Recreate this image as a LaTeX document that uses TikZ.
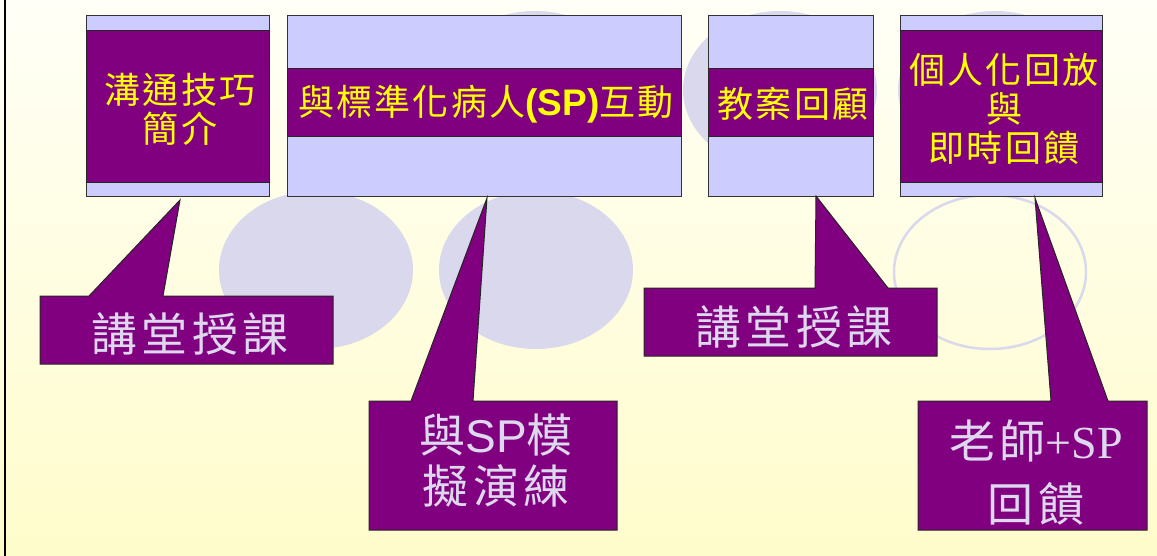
\documentclass[tikz,border=0pt]{standalone}
\usepackage{fontspec}
\newfontfamily\cjkls[LetterSpace=6]{Noto Sans CJK TC}
\newfontfamily\cjkl[LetterSpace=9]{Noto Sans CJK TC}
\newfontfamily\arialf{Liberation Sans}
\newfontfamily\timesf{Liberation Serif}
\definecolor{bgtop}{HTML}{FFFFF7}
\definecolor{bgbot}{HTML}{FFFCCB}
\definecolor{circ}{HTML}{DAD8EC}
\definecolor{lightbox}{HTML}{CCCCFF}
\definecolor{purp}{HTML}{800080}
\definecolor{outl}{HTML}{333333}
\definecolor{ytxt}{HTML}{FFFF00}
\definecolor{ltxt}{HTML}{DDD8EE}
\tikzset{
  circfill/.style={fill=circ},
  circring/.style={draw=circ, line width=2.5pt},
  outerbox/.style={fill=lightbox, draw=outl, line width=1pt},
  bandbox/.style={fill=purp, draw=black!85, line width=1pt},
  callout/.style={fill=purp, draw=black!85, line width=1pt, line join=miter},
  ytext/.style={text=ytxt, align=center, inner sep=0pt, font=\fontsize{36}{39}\selectfont\cjkls},
  ltext/.style={text=ltxt, align=center, inner sep=0pt, font=\fontsize{46}{51}\selectfont\cjkl}
}
\begin{document}
\begin{tikzpicture}[x=1pt,y=-1pt]
\useasboundingbox (0,0) rectangle (1157,556);
\shade[top color=bgtop, bottom color=bgbot] (0,0) rectangle (1157,556);
% background ellipses
\fill[circfill] (535,90) ellipse [x radius=97pt, y radius=79pt];
\fill[circfill] (780,90) ellipse [x radius=97pt, y radius=79pt];
\fill[circfill] (995,90) ellipse [x radius=97pt, y radius=79pt];
\fill[circfill] (316,270) ellipse [x radius=97pt, y radius=79pt];
\fill[circfill] (536,270) ellipse [x radius=97pt, y radius=79pt];
\draw[circring] (990,272) ellipse [x radius=96pt, y radius=77pt];
% left border
\draw[line width=2pt] (5,0) -- (5,556);
% top boxes
\filldraw[outerbox] (86,16) rectangle (269,197);
\filldraw[bandbox] (86,31) rectangle (269,183);
\filldraw[outerbox] (287,16) rectangle (681,197);
\filldraw[bandbox] (287,69) rectangle (681,137);
\filldraw[outerbox] (708,16) rectangle (873,197);
\filldraw[bandbox] (708,69) rectangle (873,137);
\filldraw[outerbox] (900,16) rectangle (1102,197);
\filldraw[bandbox] (900,31) rectangle (1102,183);
\node[ytext] (b1) at (180,109) {溝通技巧\\簡介};
\node[ytext] (b2) at (486,104) {與標準化病人{\fontsize{37}{39}\selectfont\arialf\bfseries (SP)}互動};
\node[ytext] (b3) at (793,104) {教案回顧};
\node[ytext] (b4) at (1004,109) {個人化回放\\與\\即時回饋};
% callouts
\coordinate (p1) at (180,200);
\coordinate (p2) at (487,198);
\coordinate (p3) at (816,196);
\coordinate (p4) at (1035,198);
\filldraw[callout] (40,296) -- (89,296) -- (p1) -- (163,296) -- (333,296) -- (333,364) -- (40,364) -- cycle;
\filldraw[callout] (369,401) -- (411,401) -- (p2) -- (473,401) -- (617,401) -- (617,530) -- (369,530) -- cycle;
\filldraw[callout] (644,288) -- (815,288) -- (p3) -- (888,288) -- (937,288) -- (937,356) -- (644,356) -- cycle;
\filldraw[callout] (918,401) -- (1051,401) -- (p4) -- (1108,401) -- (1147,401) -- (1147,530) -- (918,530) -- cycle;
\node[ltext] (c1) at (190,334) {講堂授課};
\node[ltext] (c2) at (496,461) {與{\arialf SP}模\\擬演練};
\node[ltext] (c3) at (794,327) {講堂授課};
\node[ltext, font=\fontsize{46}{63}\selectfont\cjkl] (c4) at (1036,473) {老師{\timesf +SP}\\回饋};
\end{tikzpicture}
\end{document}
